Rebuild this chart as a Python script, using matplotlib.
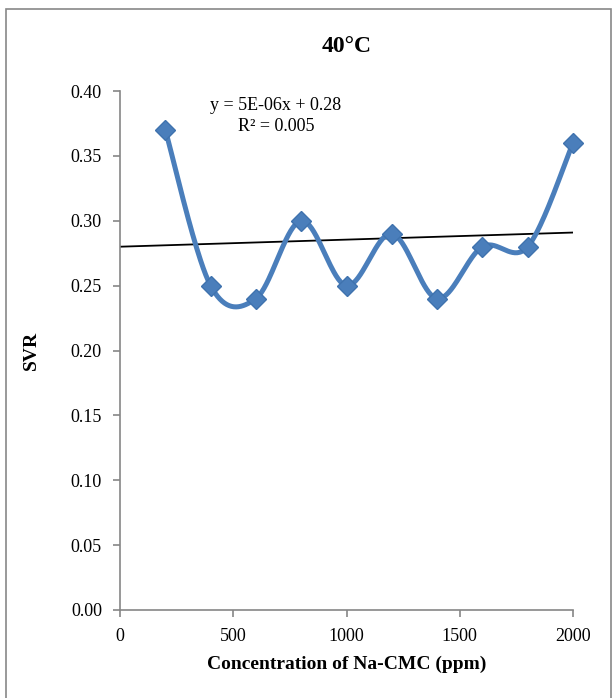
import numpy as np
import matplotlib.pyplot as plt
from matplotlib.patches import Rectangle

# data
conc = [200, 400, 600, 800, 1000, 1200, 1400, 1600, 1800, 2000]
svr = [0.37, 0.25, 0.24, 0.30, 0.25, 0.29, 0.24, 0.28, 0.28, 0.36]
x_ticks = [0, 500, 1000, 1500, 2000]
y_ticks = [0.00, 0.05, 0.10, 0.15, 0.20, 0.25, 0.30, 0.35, 0.40]

plt.rcParams['font.family'] = ['Liberation Serif', 'DejaVu Serif']


def smooth(xs, ys, n=40):
    # Excel-like smoothed line (Catmull-Rom through the points)
    px = np.array(xs, float)
    py = np.array(ys, float)
    px = np.concatenate([[px[0]], px, [px[-1]]])
    py = np.concatenate([[py[0]], py, [py[-1]]])
    outx, outy = [], []
    for i in range(1, len(px) - 2):
        t = np.linspace(0, 1, n)
        for arr, out in ((px, outx), (py, outy)):
            p0, p1, p2, p3 = arr[i - 1], arr[i], arr[i + 1], arr[i + 2]
            out.extend(0.5 * (2 * p1 + (-p0 + p2) * t
                              + (2 * p0 - 5 * p1 + 4 * p2 - p3) * t ** 2
                              + (-p0 + 3 * p1 - 3 * p2 + p3) * t ** 3))
    return outx, outy


fig = plt.figure(figsize=(6.15, 6.98), dpi=100)
W, H = 615, 698
ax = fig.add_axes([120 / W, (H - 610) / H, (573 - 120) / W, (610 - 91) / H])

# chart border
fig.patches.append(Rectangle((6 / W, -0.01), (611 - 6) / W, (H - 9) / H + 0.01,
                             transform=fig.transFigure, fill=False,
                             edgecolor='#888888', linewidth=1.2))

blue = '#4A7EBB'
sx, sy = smooth(conc, svr)
ax.plot(sx, sy, color=blue, linewidth=3.6, solid_capstyle='round', zorder=3,
        clip_on=False)
ax.plot(conc, svr, linestyle='none', marker='D', markersize=10.5,
        color=blue, markeredgecolor='#3F72AE', zorder=4, clip_on=False)

# linear trendline
k, b = np.polyfit(conc, svr, 1)
tx = np.array([0, 2000])
ax.plot(tx, k * tx + b, color='black', linewidth=1.3, zorder=2)
ax.text(689, 0.389, 'y = 5E-06x + 0.28', ha='center', va='center', fontsize=13)
ax.text(689, 0.373, 'R² = 0.005', ha='center', va='center', fontsize=13)

ax.set_xlim(0, 2000)
ax.set_ylim(0, 0.40)
ax.set_xticks(x_ticks)
ax.set_yticks(y_ticks)
ax.set_yticklabels(['%.2f' % v for v in y_ticks])
for s in ['top', 'right']:
    ax.spines[s].set_visible(False)
for s in ['left', 'bottom']:
    ax.spines[s].set_color('#868686')
    ax.spines[s].set_linewidth(1.2)
ax.tick_params(direction='out', length=5, color='#868686', width=1.2,
               labelsize=13, pad=8)

ax.set_title('40°C', fontsize=17, fontweight='bold', pad=28)
ax.set_xlabel('Concentration of Na-CMC (ppm)', fontsize=14, fontweight='bold',
              labelpad=8)
ax.set_ylabel('SVR', fontsize=14, fontweight='bold', labelpad=22)

fig.savefig('out.png', dpi=100)
